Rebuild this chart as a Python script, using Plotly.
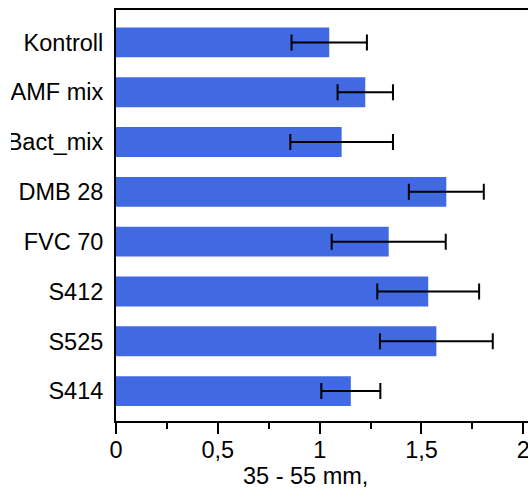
import plotly.graph_objects as go

categories = ["Kontroll", "AMF mix", "Bact_mix", "DMB 28", "FVC 70", "S412", "S525", "S414"]
values = [1.047, 1.224, 1.108, 1.622, 1.339, 1.533, 1.573, 1.153]
errors = [0.185, 0.136, 0.252, 0.184, 0.280, 0.250, 0.277, 0.145]
x_title = "35 - 55 mm,"

fig = go.Figure()
fig.add_trace(go.Bar(
    y=categories, x=values, orientation="h",
    marker=dict(color="#4169E1", line=dict(width=0)),
    error_x=dict(type="data", array=errors, visible=True, color="black", thickness=2, width=8),
    width=0.6, hoverinfo="skip",
))

font = "Liberation Sans, Arial, sans-serif"
fs = 23.5
L, PW = 116, 412
fig.update_layout(
    width=528, height=500,
    margin=dict(l=L, r=0, t=10, b=79, autoexpand=False),
    paper_bgcolor="white", plot_bgcolor="white",
    separators=", ",
    showlegend=False,
    font=dict(family=font, size=fs, color="black"),
    xaxis=dict(
        range=[0, 2.023], tickvals=[0, 0.5, 1, 1.5, 2], ticktext=["0", "0,5", "1", "1,5", "2"],
        ticks="outside", ticklen=11, tickwidth=2, tickcolor="black",
        showline=True, linewidth=2, linecolor="black", mirror=True,
        showgrid=False, zeroline=False, automargin=False,
        ticklabeloverflow="allow", ticklabelstandoff=-4,
        minor=dict(tickvals=[0.25, 0.75, 1.25, 1.75], ticks="outside", ticklen=6, tickwidth=2, tickcolor="black"),
        tickfont=dict(size=fs),
    ),
    yaxis=dict(
        type="category", range=[7.6, -0.65],
        showline=True, linewidth=2, linecolor="black",
        ticks="", showgrid=False, zeroline=False, automargin=False,
        ticklabelstandoff=6,
        tickfont=dict(size=fs),
    ),
    annotations=[dict(
        text=x_title, xref="paper", yref="paper", x=(305 - L) / PW, y=-(476 - 421) / 411,
        xanchor="center", yanchor="middle", showarrow=False, font=dict(size=fs),
    )],
    shapes=[dict(
        type="rect", xref="paper", yref="paper", layer="above",
        x0=-L / PW, x1=-(L - 11) / PW, y0=0, y1=1,
        fillcolor="white", line=dict(width=0),
    )],
)

fig.write_html(
    "out.html",
    config={"displayModeBar": False},
    post_script="document.body.style.margin='0';document.body.style.overflow='hidden';",
)
